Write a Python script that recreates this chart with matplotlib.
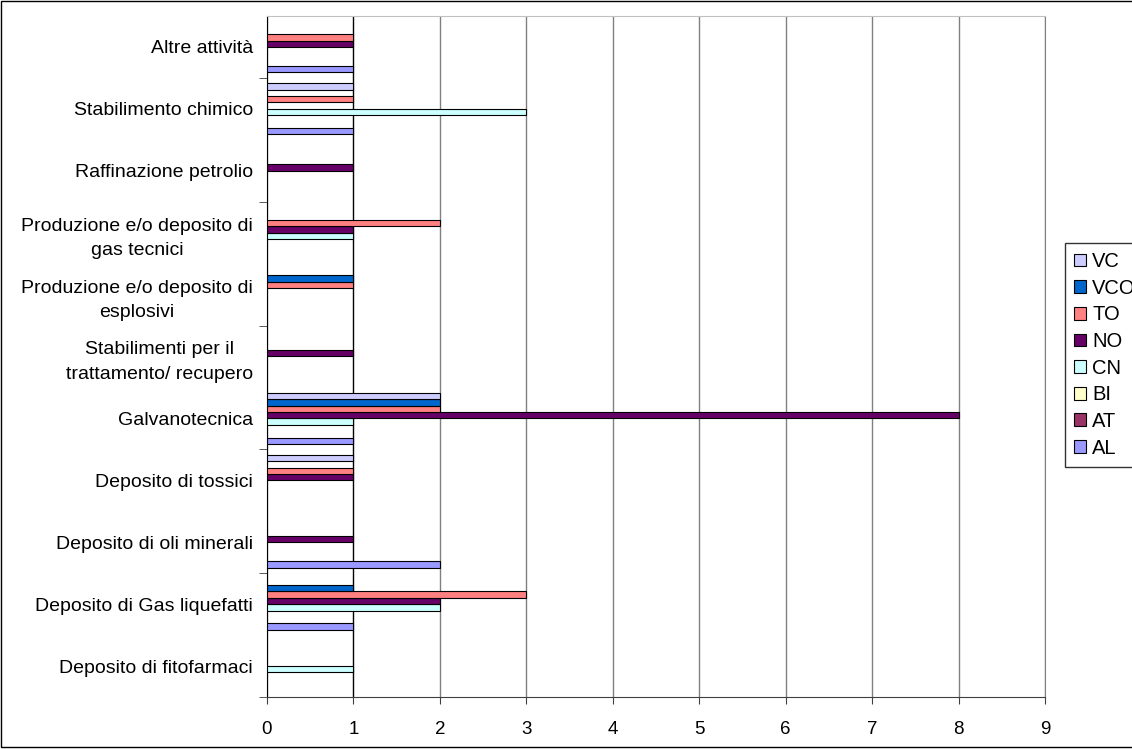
import numpy as np
import matplotlib
matplotlib.use('Agg')
import matplotlib.pyplot as plt
from matplotlib.patches import Patch, Rectangle

plt.rcParams['font.family'] = ['Liberation Sans', 'DejaVu Sans']

# Categories, bottom to top
categories = [
    'Deposito di fitofarmaci',
    'Deposito di Gas liquefatti',
    'Deposito di oli minerali',
    'Deposito di tossici',
    'Galvanotecnica',
    'Stabilimenti per il\ntrattamento/ recupero',
    'Produzione e/o deposito di\nesplosivi',
    'Produzione e/o deposito di\ngas tecnici',
    'Raffinazione petrolio',
    'Stabilimento chimico',
    'Altre attività',
]

# Series values (one per category, same order as above)
AL  = [0, 1, 2, 0, 1, 0, 0, 0, 0, 1, 1]
AT  = [0, 0, 0, 0, 0, 0, 0, 0, 0, 0, 0]
BI  = [0, 0, 0, 0, 0, 0, 0, 0, 0, 0, 0]
CN  = [1, 2, 0, 0, 1, 0, 0, 1, 0, 3, 0]
NO  = [0, 2, 1, 1, 8, 1, 0, 1, 1, 0, 1]
TO  = [0, 3, 0, 1, 2, 0, 1, 2, 0, 1, 1]
VCO = [0, 1, 0, 0, 2, 0, 1, 0, 0, 0, 0]
VC  = [0, 0, 0, 1, 2, 0, 0, 0, 0, 1, 0]

series_names = ['AL', 'AT', 'BI', 'CN', 'NO', 'TO', 'VCO', 'VC']
series_values = [AL, AT, BI, CN, NO, TO, VCO, VC]
colors = ['#9999FF', '#993366', '#FFFFCC', '#CCFFFF',
          '#660066', '#FF8080', '#0066CC', '#CCCCFF']

W, H = 1132, 749
fig = plt.figure(figsize=(W / 100, H / 100), dpi=100)
ax = fig.add_axes([267 / W, 1 - 697 / H, (1045 - 267) / W, (697 - 16) / H])

y = np.arange(len(categories))
bar_h = 0.103
for i, (name, vals, col) in enumerate(zip(series_names, series_values, colors)):
    vals = np.array(vals, dtype=float)
    mask = vals > 0
    ax.barh(y[mask] + (i - 3.5) * bar_h, vals[mask], height=bar_h,
            color=col, edgecolor='black', linewidth=0.8, zorder=3)

ax.set_xlim(0, 9)
ax.set_ylim(-0.5, len(categories) - 0.5)
ax.set_xticks(range(10))
ax.xaxis.grid(True, color='#808080', linewidth=1, zorder=0)
ax.get_xgridlines()[1].set_color('black')
ax.tick_params(axis='x', length=5, color='#404040', labelsize=13.5, pad=12)

ax.set_yticks(y)
ax.set_yticklabels(categories, fontsize=14, multialignment='center',
                   linespacing=1.6)
ax.tick_params(axis='y', which='major', length=0, pad=10)
ax.set_yticks(np.arange(-0.5, len(categories) - 1, 2), minor=True)
ax.tick_params(axis='y', which='minor', length=6, color='#404040')

ax.spines['left'].set_color('black')
ax.spines['bottom'].set_color('#404040')
ax.spines['top'].set_color('#C0C0C0')
ax.spines['right'].set_color('#808080')

handles = [Patch(facecolor=c, edgecolor='black', linewidth=0.8, label=n)
           for n, c in zip(series_names, colors)][::-1]
fig.legend(handles=handles, loc='upper left',
           bbox_to_anchor=(1065 / W, 1 - 243 / H), frameon=True,
           fancybox=False, edgecolor='black', fontsize=14.5,
           handlelength=0.6, handleheight=0.6, handletextpad=0.3,
           labelspacing=0.38, borderpad=0.45, borderaxespad=0)

fig.patches.append(Rectangle((1 / W, 2 / H), 1.2, 1 - 3 / H,
                             transform=fig.transFigure, fill=False,
                             edgecolor='black', linewidth=1))

fig.savefig('out.png', dpi=100)
